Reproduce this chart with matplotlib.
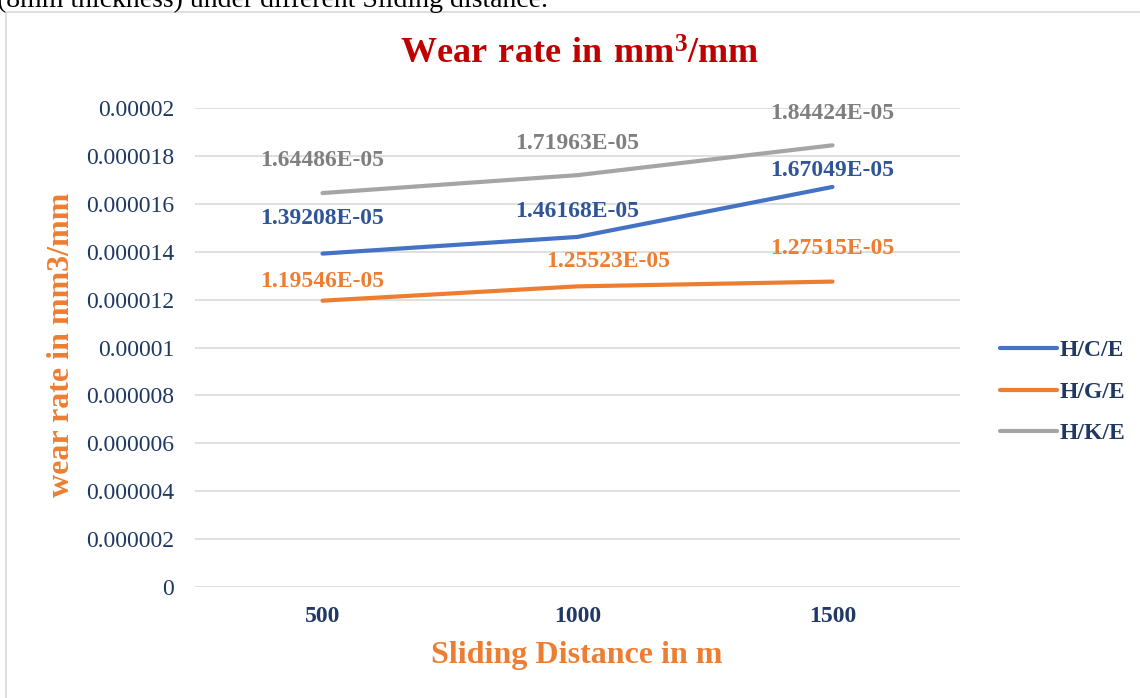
import matplotlib.pyplot as plt
from matplotlib.patches import Rectangle

plt.rcParams['font.family'] = ['Liberation Serif', 'DejaVu Serif']
plt.rcParams['mathtext.fontset'] = 'custom'
plt.rcParams['mathtext.rm'] = 'Liberation Serif'
plt.rcParams['mathtext.bf'] = 'Liberation Serif:bold'

distances = ['500', '1000', '1500']
series_names = ['H/C/E', 'H/G/E', 'H/K/E']
hce = [1.39208e-05, 1.46168e-05, 1.67049e-05]
hge = [1.19546e-05, 1.25523e-05, 1.27515e-05]
hke = [1.64486e-05, 1.71963e-05, 1.84424e-05]
yticks = [0, 0.000002, 0.000004, 0.000006, 0.000008, 0.00001,
          0.000012, 0.000014, 0.000016, 0.000018, 0.00002]
ytick_labels = ['0', '0.000002', '0.000004', '0.000006', '0.000008', '0.00001',
                '0.000012', '0.000014', '0.000016', '0.000018', '0.00002']

line_colors = ['#4472C4', '#ED7D31', '#A5A5A5']
label_colors = ['#2F5597', '#ED7D31', '#7F7F7F']
# label offsets (points, label centre relative to point) per series / category
offsets = [[(0, 25), (0, 18.5), (0, 11.5)],
           [(0, 13.5), (22, 18), (0, 23.5)],
           [(0, 23.5), (0, 23), (0, 23)]]
navy = '#1F3864'

fig = plt.figure(figsize=(11.4, 6.98), dpi=100)
fig.patches.append(Rectangle((6 / 1140, -0.01), 1.2, 1 - 12 / 698 + 0.01,
                             transform=fig.transFigure, fill=False,
                             edgecolor='#D9D9D9', linewidth=1.2))
fig.text(-0.003, 1 - 7 / 698, '(8mm thickness) under different Sliding distance.',
         fontsize=20, color='black', va='baseline', ha='left')

ax = fig.add_axes([195 / 1140, 1 - 587 / 698, 765 / 1140, 479 / 698])
x = range(len(distances))
for vals, name, lc, tc, offs in zip([hce, hge, hke], series_names, line_colors,
                                     label_colors, offsets):
    ax.plot(x, vals, color=lc, linewidth=3, label=name, solid_capstyle='round')
    for xi, v, off in zip(x, vals, offs):
        ax.annotate('%.5fE-05' % (v * 1e5), (xi, v), xytext=off,
                    textcoords='offset points', ha='center', va='center',
                    fontsize=17, fontweight='bold', color=tc)

ax.set_xlim(-0.5, 2.5)
ax.set_ylim(0, 0.00002)
ax.set_yticks(yticks)
ax.set_yticklabels(ytick_labels, fontsize=17, color=navy)
ax.set_xticks(list(x))
ax.set_xticklabels(distances, fontsize=17, fontweight='bold', color=navy)
ax.tick_params(axis='y', length=0, pad=15)
ax.tick_params(axis='x', length=0, pad=14)
ax.grid(axis='y', color='#D9D9D9', linewidth=1.2)
ax.set_axisbelow(True)
for s in ax.spines.values():
    s.set_visible(False)

fig.text(580 / 1140, 1 - 55 / 698, r'$\mathbf{Wear\ rate\ in\ mm^3/mm}$', fontsize=26,
         color='#C00000', ha='center', va='center')
fig.text(577 / 1140, 1 - 656 / 698, 'Sliding Distance in m', fontsize=23,
         fontweight='bold', color='#ED7D31', ha='center', va='center')
fig.text(62 / 1140, 1 - 345 / 698, 'wear rate in mm3/mm', fontsize=23,
         fontweight='bold', color='#ED7D31', ha='center', va='center',
         rotation=90)

leg = fig.legend(loc='center left', bbox_to_anchor=(979 / 1140, 1 - 392 / 698),
                 frameon=False, handlelength=2.4, handletextpad=0.1,
                 labelspacing=0.85, prop={'weight': 'bold', 'size': 17})
for t in leg.get_texts():
    t.set_color(navy)

fig.savefig('out.png', dpi=100)
